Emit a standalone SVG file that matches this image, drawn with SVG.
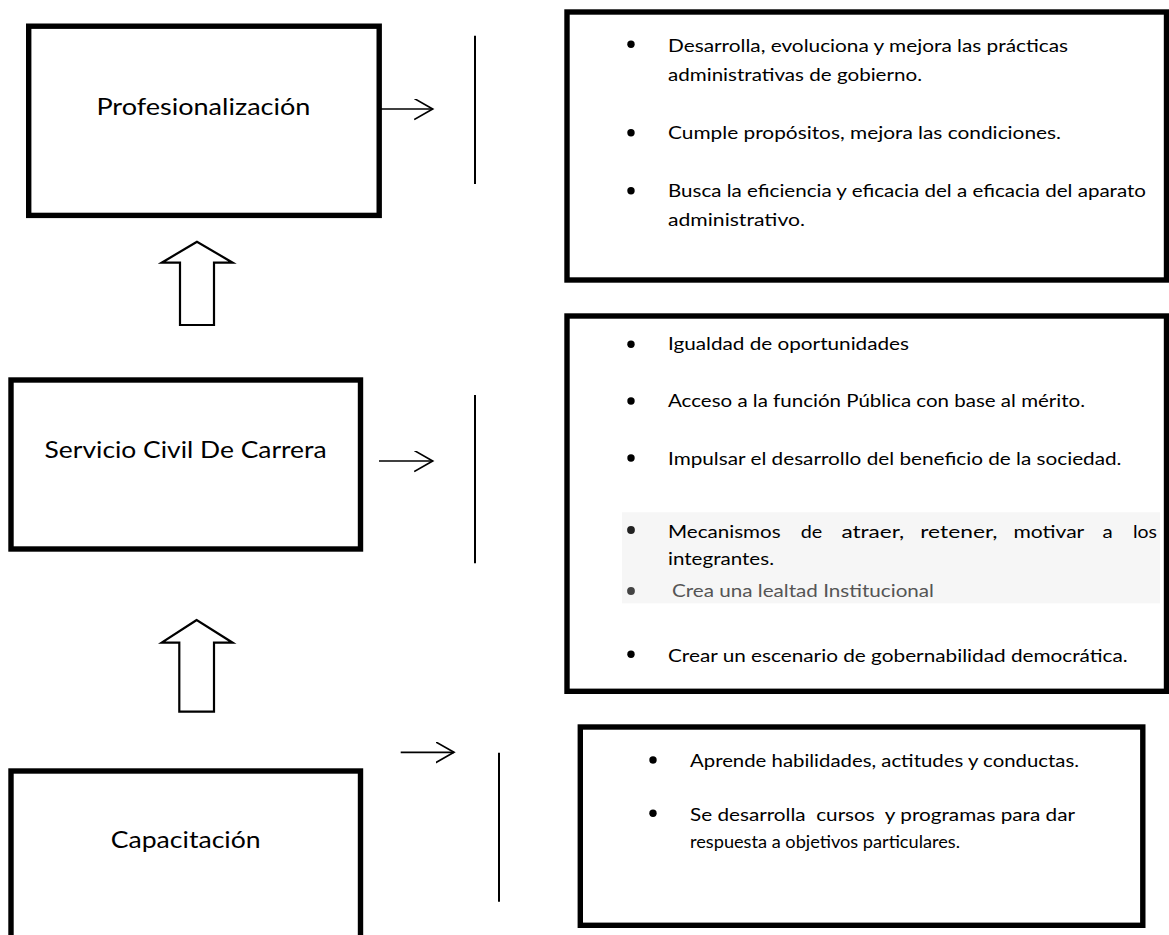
<svg xmlns="http://www.w3.org/2000/svg" width="1169" height="935" viewBox="0 0 1169 935">
<style>
.box{fill:#fff;stroke:#000;stroke-width:5.4}
.lbl{font-family:Lato,"Open Sans","Liberation Sans",sans-serif;font-size:23px;fill:#000}
.t{font-family:Lato,"Open Sans","Liberation Sans",sans-serif;font-size:18px;fill:#000}
.g{fill:#555}
.bul{fill:#000}
.ln{stroke:#000;stroke-width:1.7;fill:none}
.vl{stroke:#000;stroke-width:2;fill:none}
.blk{fill:#fff;stroke:#000;stroke-width:2.2;stroke-linejoin:miter}
</style>
<defs>
<marker id="ah" markerUnits="userSpaceOnUse" markerWidth="22" markerHeight="24" refX="18.5" refY="10.5" orient="auto">
<path d="M0,0 L18.5,10.5 L0,21" fill="none" stroke="#000" stroke-width="1.7"/>
</marker>
</defs>
<rect width="1169" height="935" fill="#fff"/>

<g id="node-profesionalizacion">
<rect class="box" x="28.7" y="26.2" width="350.5" height="189.2"/>
<text class="lbl" x="96.4" y="115" textLength="214" lengthAdjust="spacingAndGlyphs">Profesionalización</text>
</g>

<g id="node-servicio-civil">
<rect class="box" x="11" y="380" width="349.5" height="169"/>
<text class="lbl" x="44.6" y="458.3" textLength="282" lengthAdjust="spacingAndGlyphs">Servicio Civil De Carrera</text>
</g>

<g id="node-capacitacion">
<rect class="box" x="11" y="771" width="349.5" height="180"/>
<text class="lbl" x="110.7" y="848.3" textLength="150" lengthAdjust="spacingAndGlyphs">Capacitación</text>
</g>

<g id="node-desc-profesionalizacion">
<rect class="box" x="567" y="12" width="599.5" height="268"/>
<circle class="bul" cx="631" cy="44.3" r="3.7"/>
<text class="t" x="668" y="51.7" textLength="400" lengthAdjust="spacingAndGlyphs">Desarrolla, evoluciona y mejora las prácticas</text>
<text class="t" x="668" y="81" textLength="254" lengthAdjust="spacingAndGlyphs">administrativas de gobierno.</text>
<circle class="bul" cx="631" cy="132.7" r="3.7"/>
<text class="t" x="668" y="139.3" textLength="393" lengthAdjust="spacingAndGlyphs">Cumple propósitos, mejora las condiciones.</text>
<circle class="bul" cx="631" cy="190.7" r="3.7"/>
<text class="t" x="668" y="196.7" textLength="478" lengthAdjust="spacingAndGlyphs">Busca la eficiencia y eficacia del a eficacia del aparato</text>
<text class="t" x="668" y="225.7" textLength="137" lengthAdjust="spacingAndGlyphs">administrativo.</text>
</g>

<g id="node-desc-servicio-civil">
<rect class="box" x="567" y="316" width="599.5" height="375.3"/>
<rect x="622" y="512.3" width="538" height="91" fill="#f6f6f6"/>
<circle class="bul" cx="631" cy="344.3" r="3.7"/>
<text class="t" x="668" y="350" textLength="241" lengthAdjust="spacingAndGlyphs">Igualdad de oportunidades</text>
<circle class="bul" cx="631" cy="401" r="3.7"/>
<text class="t" x="668" y="407.3" textLength="417" lengthAdjust="spacingAndGlyphs">Acceso a la función Pública con base al mérito.</text>
<circle class="bul" cx="631" cy="458" r="3.7"/>
<text class="t" x="668" y="465" textLength="453.5" lengthAdjust="spacingAndGlyphs">Impulsar el desarrollo del beneficio de la sociedad.</text>
<circle cx="631" cy="530" r="3.9" fill="#222"/>
<text class="t" x="668" y="538.3" textLength="112.6" lengthAdjust="spacingAndGlyphs">Mecanismos</text>
<text class="t" x="800.8" y="538.3" textLength="21.5" lengthAdjust="spacingAndGlyphs">de</text>
<text class="t" x="841.4" y="538.3" textLength="62.8" lengthAdjust="spacingAndGlyphs">atraer,</text>
<text class="t" x="920.3" y="538.3" textLength="77.2" lengthAdjust="spacingAndGlyphs">retener,</text>
<text class="t" x="1013.4" y="538.3" textLength="70.9" lengthAdjust="spacingAndGlyphs">motivar</text>
<text class="t" x="1102.4" y="538.3" textLength="10.2" lengthAdjust="spacingAndGlyphs">a</text>
<text class="t" x="1133" y="538.3" textLength="24" lengthAdjust="spacingAndGlyphs">los</text>
<text class="t" x="668" y="565" textLength="106" lengthAdjust="spacingAndGlyphs">integrantes.</text>
<circle cx="631" cy="591" r="3.9" fill="#444"/>
<text class="t g" x="672" y="597.3" textLength="262" lengthAdjust="spacingAndGlyphs">Crea una lealtad Institucional</text>
<circle class="bul" cx="631" cy="654.3" r="3.7"/>
<text class="t" x="668" y="661.7" textLength="459.7" lengthAdjust="spacingAndGlyphs">Crear un escenario de gobernabilidad democrática.</text>
</g>

<g id="node-desc-capacitacion">
<rect class="box" x="580.3" y="727" width="562.5" height="198.3"/>
<circle class="bul" cx="653" cy="760" r="3.7"/>
<text class="t" x="690" y="767.3" textLength="389" lengthAdjust="spacingAndGlyphs">Aprende habilidades, actitudes y conductas.</text>
<circle class="bul" cx="653" cy="813.3" r="3.7"/>
<text class="t" x="690" y="820.7" textLength="385" lengthAdjust="spacingAndGlyphs" xml:space="preserve">Se desarrolla  cursos  y programas para dar</text>
<text class="t" x="690" y="848.3" textLength="270" lengthAdjust="spacingAndGlyphs">respuesta a objetivos particulares.</text>
</g>

<g id="connectors">
<line class="ln" x1="381" y1="109" x2="432.7" y2="109" marker-end="url(#ah)"/>
<line class="ln" x1="379" y1="461" x2="432.7" y2="461" marker-end="url(#ah)"/>
<line class="ln" x1="400.7" y1="752.3" x2="454" y2="752.3" marker-end="url(#ah)"/>
<line class="vl" x1="475" y1="35.7" x2="475" y2="184"/>
<line class="vl" x1="475" y1="395" x2="475" y2="563.3"/>
<line class="vl" x1="499" y1="752.7" x2="499" y2="901.7"/>
<polygon class="blk" points="197,241.7 161.7,262.7 180,262.7 180,325 214,325 214,262.7 232.7,262.7"/>
<polygon class="blk" points="196.7,620 161.7,642.7 179.3,642.7 179.3,711.7 214,711.7 214,642.7 232.7,642.7"/>
</g>
</svg>
